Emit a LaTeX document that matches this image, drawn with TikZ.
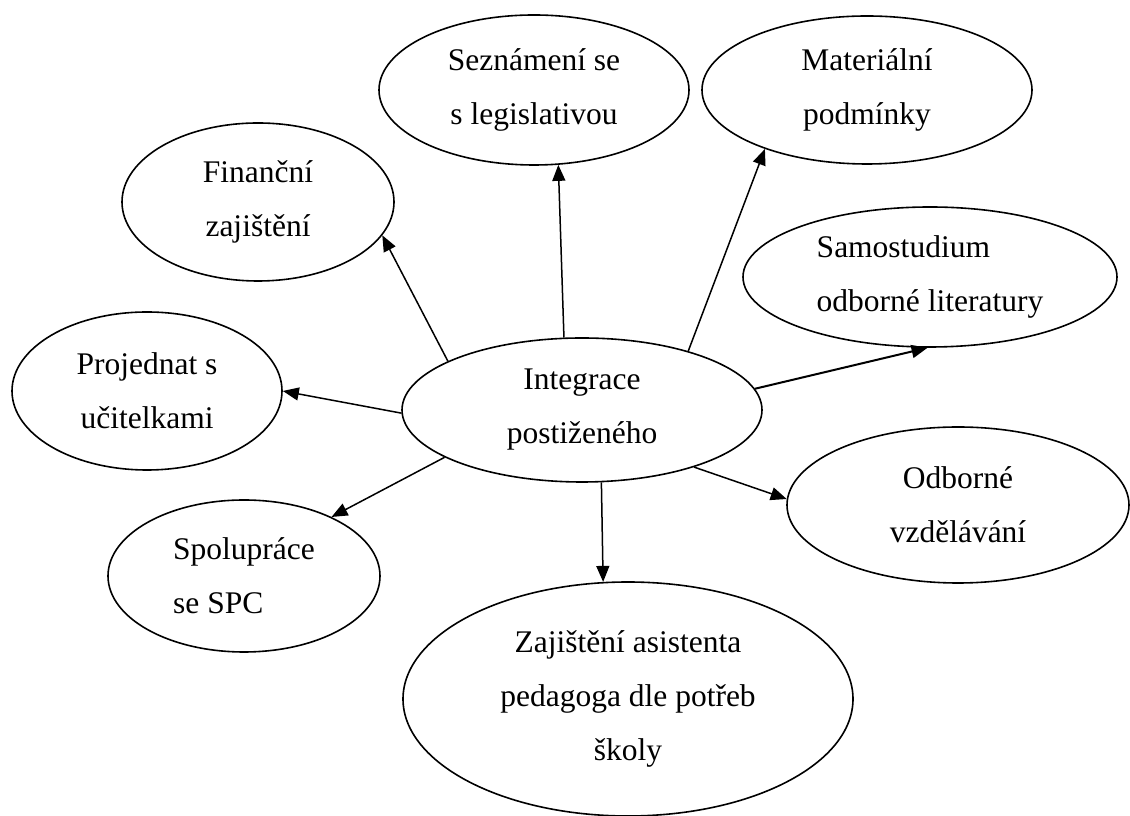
\documentclass[tikz,border=0pt]{standalone}
\usepackage{fontspec}
\setmainfont{Liberation Serif}
\usetikzlibrary{shapes.geometric,arrows.meta}
\begin{document}
\begin{tikzpicture}[x=1pt,y=1pt,
  bub/.style={draw,ellipse,line width=1.6pt,inner sep=0pt,align=center,
    font=\fontsize{31.5}{54}\selectfont},
  arr/.style={line width=1.5pt,-{Triangle[length=16pt,width=13pt]}}]
\useasboundingbox (0,0) rectangle (1130,816);
\node[bub,minimum width=360,minimum height=144] (C) at (582,406) {Integrace\\postiženého};
\node[bub,minimum width=310,minimum height=150] (S) at (534,726) {Seznámení se\\s legislativou};
\node[bub,minimum width=330,minimum height=148] (M) at (867,726) {Materiální\\podmínky};
\node[bub,minimum width=272,minimum height=158] (F) at (258,614) {Finanční\\zajištění};
\node[bub,align=left,minimum width=374,minimum height=140] (Sa) at (930,539) {Samostudium\\odborné literatury};
\node[bub,minimum width=270,minimum height=158] (P) at (147,425) {Projednat s\\učitelkami};
\node[bub,align=left,minimum width=272,minimum height=152] (Sp) at (244,240) {Spolupráce\\se SPC};
\node[bub,minimum width=342,minimum height=156] (O) at (958,311) {Odborné\\vzdělávání};
\node[bub,minimum width=450,minimum height=234] (Z) at (628,117) {Zajištění asistenta\\pedagoga dle potřeb\\školy};
\draw[arr] (C.104.6) -- (S.288.4);
\draw[arr] (C.29.7) -- (M.210.4);
\draw[arr] (C.160.4) -- (F.345.9);
\draw[arr,line width=2pt] (C.7) -- (Sa.268.4);
\draw[arr] (C.181.9) -- (P.0.4);
\draw[arr] (C.199.9) -- (Sp.34.6);
\draw[arr] (C.333.4) -- (O.178.3);
\draw[arr] (C.285.5) -- (Z.102.3);
\end{tikzpicture}
\end{document}
